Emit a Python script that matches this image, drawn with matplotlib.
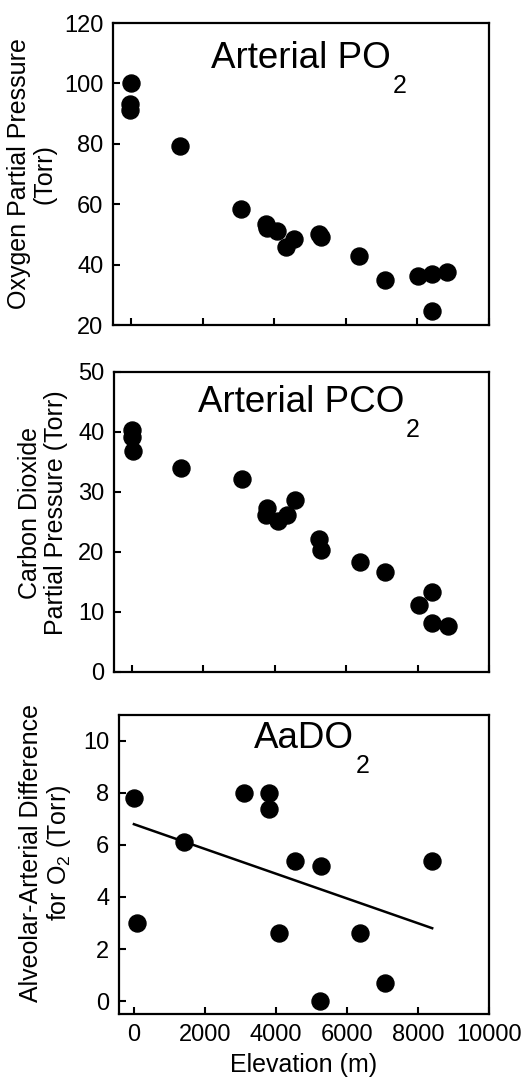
import matplotlib
matplotlib.use('Agg')
import matplotlib.pyplot as plt
import numpy as np

plt.rcParams['font.family'] = ['Liberation Sans', 'DejaVu Sans']
plt.rcParams['mathtext.default'] = 'regular'

# Arterial PO2 (Torr) vs elevation (m)
elev_po2 = [0, -30, -30, 1380, 3080, 3780, 3800, 4090, 4330, 4560, 5260, 5310, 6370, 7090, 8030, 8400, 8400, 8840]
po2 = [100, 93.3, 91.3, 79.3, 58.3, 53.5, 52.2, 51.2, 46.0, 48.5, 50.2, 49.0, 42.9, 35.0, 36.3, 36.8, 24.8, 37.7]

# Arterial PCO2 (Torr)
elev_pco2 = [0, 0, 30, 1370, 3090, 3790, 3760, 4090, 4340, 4560, 5240, 5290, 6380, 7080, 8040, 8390, 8390, 8860]
pco2 = [40.4, 39.2, 36.8, 34.0, 32.2, 27.3, 26.2, 25.2, 26.2, 28.7, 22.1, 20.3, 18.3, 16.7, 11.1, 13.4, 8.1, 7.6]

# AaDO2 (Torr) + regression line
elev_aado2 = [0, 100, 1400, 3100, 3800, 3800, 4100, 4550, 5280, 5230, 6380, 7080, 8390]
aado2 = [7.8, 3.0, 6.1, 8.0, 8.0, 7.4, 2.6, 5.4, 5.2, 0.0, 2.6, 0.7, 5.4]
fit_x = [0, 8400]
fit_y = [6.8, 2.8]

fig = plt.figure(figsize=(5.24, 10.8), dpi=100)

ax1 = fig.add_axes([0.2157, 0.699, 0.7175, 0.2797])
ax2 = fig.add_axes([0.2176, 0.3778, 0.7156, 0.2778])
ax3 = fig.add_axes([0.2271, 0.0611, 0.7061, 0.2769])


def style(ax, xlim, ylim, yticks, show_x):
    ax.set_xlim(*xlim)
    ax.set_ylim(*ylim)
    ax.set_yticks(yticks)
    ax.set_xticks([0, 2000, 4000, 6000, 8000, 10000])
    for s in ax.spines.values():
        s.set_linewidth(1.6)
    ax.tick_params(direction='in', length=5, width=1.5, labelsize=17, pad=7,
                   top=False, right=False)
    if not show_x:
        ax.tick_params(axis='x', labelbottom=False)


def title(ax, x, y, main):
    t = ax.text(x, y, main, transform=ax.transAxes, ha='center', va='baseline', fontsize=26.5)
    ax.annotate('2', xy=(1, 0), xycoords=t, xytext=(1, -12), textcoords='offset points',
                ha='left', va='baseline', fontsize=18)


ax1.scatter(elev_po2, po2, s=150, color='black', zorder=3)
style(ax1, (-500, 10000), (20, 120), [20, 40, 60, 80, 100, 120], False)
ax1.set_ylabel('Oxygen Partial Pressure\n(Torr)', fontsize=18, labelpad=5, linespacing=1.1)
title(ax1, 0.5, 0.85, 'Arterial PO')

ax2.scatter(elev_pco2, pco2, s=150, color='black', zorder=3)
style(ax2, (-500, 10000), (0, 50), [0, 10, 20, 30, 40, 50], False)
ax2.set_ylabel('Carbon Dioxide\nPartial Pressure (Torr)', fontsize=18, labelpad=7, linespacing=1.1, y=0.53)
title(ax2, 0.5, 0.865, 'Arterial PCO')

ax3.scatter(elev_aado2, aado2, s=150, color='black', zorder=3)
ax3.plot(fit_x, fit_y, color='black', linewidth=1.8)
style(ax3, (-420, 10000), (-0.5, 11), [0, 2, 4, 6, 8, 10], True)
ax3.set_ylabel('Alveolar-Arterial Difference\nfor O$_2$ (Torr)', fontsize=18, labelpad=7, linespacing=1.1, y=0.54)
ax3.set_xlabel('Elevation (m)', fontsize=18, labelpad=5)
title(ax3, 0.5, 0.89, 'AaDO')

fig.savefig('out.png', dpi=100)
